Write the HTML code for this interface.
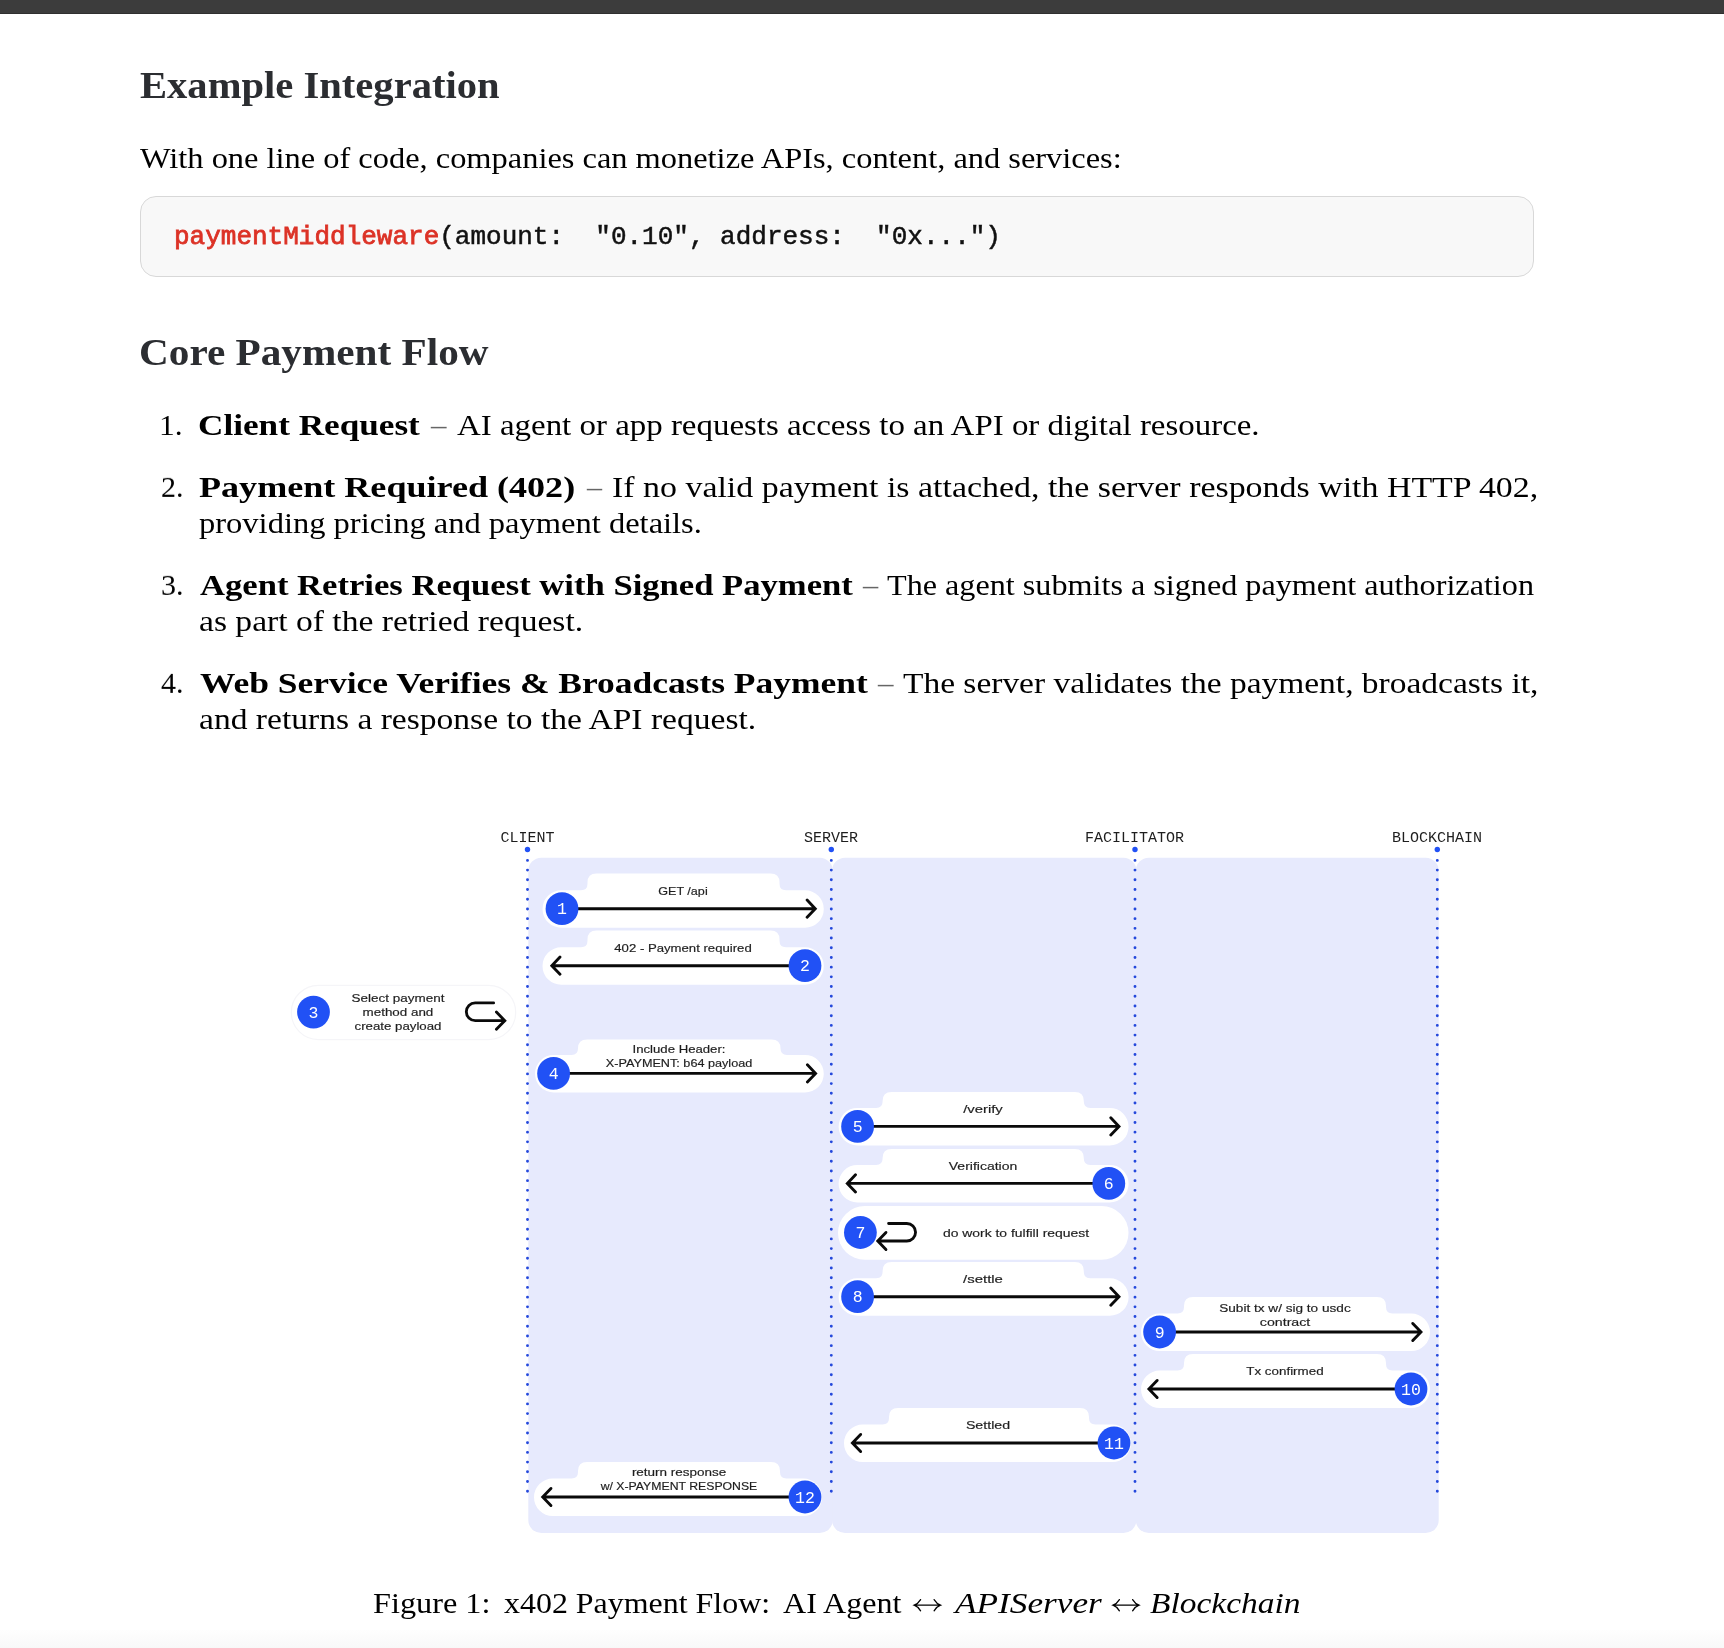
<!DOCTYPE html>
<html><head><meta charset="utf-8"><title>x402</title><style>
html,body{margin:0;padding:0;background:#fff;}
body{width:1724px;height:1648px;position:relative;overflow:hidden;font-family:"Liberation Serif",serif;color:#000;}
#topbar{position:absolute;left:0;top:0;width:1724px;height:12.6px;background:#3c3c3c;border-bottom:1px solid #2f2f2f;}
#botfade{position:absolute;left:0;top:1630px;width:1724px;height:18px;background:linear-gradient(#fefefe,#f8f8f8);}
#code{position:absolute;left:140px;top:195.9px;width:1391.6px;height:79px;border:1.3px solid #d8d8d8;border-radius:16px;background:#f8f8f8;-webkit-text-stroke:.5px #111;
 font-family:"Liberation Mono",monospace;font-size:26px;will-change:transform;line-height:80.4px;white-space:pre;padding-left:0;text-indent:33px;color:#111;box-sizing:content-box;}
#code .r{color:#dc3226;-webkit-text-stroke:.8px #dc3226;}
.ln{position:absolute;white-space:nowrap;transform-origin:0 0;line-height:1;will-change:transform;}
.b{font-size:30px;color:#000;}
.bb{font-weight:bold;}
.h{font-size:37px;font-weight:bold;color:#2b2d31;}
.d{color:#666;}
.ar{font-size:26px;}
svg text{font-family:"Liberation Sans",sans-serif;}

</style></head><body>
<div id="topbar"></div>
<div id="botfade"></div>
<div id="code"><span class="r">paymentMiddleware</span>(amount:  "0.10", address:  "0x...")</div>
<div class="ln h" style="left:139.50px;top:97.9px;transform:translateY(-.8375em) scaleX(1.0969)">Example Integration</div>
<div class="ln b" style="left:140.00px;top:167.5px;transform:translateY(-.8375em) scaleX(1.0806)">With one line of code, companies can monetize APIs, content, and services:</div>
<div class="ln h" style="left:138.50px;top:364.9px;transform:translateY(-.8375em) scaleX(1.1141)">Core Payment Flow</div>
<div class="ln b" style="left:159.00px;top:435px;transform:translateY(-.8375em) scaleX(1.0473)">1.</div>
<div class="ln b bb" style="left:198.00px;top:435px;transform:translateY(-.8375em) scaleX(1.1727)">Client Request</div>
<div class="ln b d" style="left:430.50px;top:435px;transform:translateY(-.8375em) scaleX(1.0269)">–</div>
<div class="ln b" style="left:457.00px;top:435px;transform:translateY(-.8375em) scaleX(1.0973)">AI agent or app requests access to an API or digital resource.</div>
<div class="ln b" style="left:161.00px;top:496.5px;transform:translateY(-.8375em) scaleX(0.9978)">2.</div>
<div class="ln b bb" style="left:199.00px;top:496.5px;transform:translateY(-.8375em) scaleX(1.2028)">Payment Required (402)</div>
<div class="ln b d" style="left:587.00px;top:496.5px;transform:translateY(-.8375em) scaleX(1.0000)">–</div>
<div class="ln b" style="left:612.00px;top:496.5px;transform:translateY(-.8375em) scaleX(1.1302)">If no valid payment is attached, the server responds with HTTP 402,</div>
<div class="ln b" style="left:199.00px;top:532.5px;transform:translateY(-.8375em) scaleX(1.0837)">providing pricing and payment details.</div>
<div class="ln b" style="left:161.00px;top:594.8px;transform:translateY(-.8375em) scaleX(0.9978)">3.</div>
<div class="ln b bb" style="left:200.00px;top:594.8px;transform:translateY(-.8375em) scaleX(1.1539)">Agent Retries Request with Signed Payment</div>
<div class="ln b d" style="left:862.50px;top:594.8px;transform:translateY(-.8375em) scaleX(1.0089)">–</div>
<div class="ln b" style="left:887.00px;top:594.8px;transform:translateY(-.8375em) scaleX(1.0726)">The agent submits a signed payment authorization</div>
<div class="ln b" style="left:199.00px;top:630.8px;transform:translateY(-.8375em) scaleX(1.1194)">as part of the retried request.</div>
<div class="ln b" style="left:161.00px;top:693px;transform:translateY(-.8375em) scaleX(0.9978)">4.</div>
<div class="ln b bb" style="left:200.00px;top:693px;transform:translateY(-.8375em) scaleX(1.1814)">Web Service Verifies &amp; Broadcasts Payment</div>
<div class="ln b d" style="left:878.00px;top:693px;transform:translateY(-.8375em) scaleX(1.0274)">–</div>
<div class="ln b" style="left:903.00px;top:693px;transform:translateY(-.8375em) scaleX(1.1151)">The server validates the payment, broadcasts it,</div>
<div class="ln b" style="left:199.00px;top:729px;transform:translateY(-.8375em) scaleX(1.1184)">and returns a response to the API request.</div>
<div class="ln b" style="left:373.00px;top:1612.6px;transform:translateY(-.8375em) scaleX(1.0760)">Figure 1:</div>
<div class="ln b" style="left:504.00px;top:1612.6px;transform:translateY(-.8375em) scaleX(1.0642)">x402 Payment Flow:</div>
<div class="ln b" style="left:782.50px;top:1612.6px;transform:translateY(-.8375em) scaleX(1.0697)">AI Agent</div>
<div class="ln b" style="left:955.00px;top:1612.6px;transform:translateY(-.8375em) scaleX(1.1752)"><i>APIServer</i></div>
<div class="ln b" style="left:1150.00px;top:1612.6px;transform:translateY(-.8375em) scaleX(1.1150)"><i>Blockchain</i></div>
<svg id="dg" width="1724" height="1648" viewBox="0 0 1724 1648" style="position:absolute;left:0;top:0;will-change:transform">
<rect x="528.3" y="857.8" width="304.4" height="675.2" rx="13" fill="#e7eafd"/>
<rect x="832.1" y="857.8" width="304.3" height="675.2" rx="13" fill="#e7eafd"/>
<rect x="1135.8" y="857.8" width="302.9" height="675.2" rx="13" fill="#e7eafd"/>
<text x="527.5" y="841.9" text-anchor="middle" font-family="Liberation Mono, monospace" font-size="15" fill="#1e1e1e" style="font-family:'Liberation Mono',monospace">CLIENT</text>
<text x="831" y="841.9" text-anchor="middle" font-family="Liberation Mono, monospace" font-size="15" fill="#1e1e1e" style="font-family:'Liberation Mono',monospace">SERVER</text>
<text x="1134.5" y="841.9" text-anchor="middle" font-family="Liberation Mono, monospace" font-size="15" fill="#1e1e1e" style="font-family:'Liberation Mono',monospace">FACILITATOR</text>
<text x="1437" y="841.9" text-anchor="middle" font-family="Liberation Mono, monospace" font-size="15" fill="#1e1e1e" style="font-family:'Liberation Mono',monospace">BLOCKCHAIN</text>
<circle cx="527.5" cy="849.5" r="2.7" fill="#2151f5"/>
<line x1="527.5" y1="860.4" x2="527.5" y2="1493" stroke="#2448dc" stroke-width="2.9" stroke-linecap="round" stroke-dasharray="0 9.705"/>
<circle cx="831.3" cy="849.5" r="2.7" fill="#2151f5"/>
<line x1="831.3" y1="860.4" x2="831.3" y2="1493" stroke="#2448dc" stroke-width="2.9" stroke-linecap="round" stroke-dasharray="0 9.705"/>
<circle cx="1135" cy="849.5" r="2.7" fill="#2151f5"/>
<line x1="1135" y1="860.4" x2="1135" y2="1493" stroke="#2448dc" stroke-width="2.9" stroke-linecap="round" stroke-dasharray="0 9.705"/>
<circle cx="1437.3" cy="849.5" r="2.7" fill="#2151f5"/>
<line x1="1437.3" y1="860.4" x2="1437.3" y2="1493" stroke="#2448dc" stroke-width="2.9" stroke-linecap="round" stroke-dasharray="0 9.705"/>
<path d="M561.3 890.2L581.0 890.2Q587.5 890.2 587.5 883.7L587.5 882.6Q587.5 873.6 596.5 873.6L770.5 873.6Q779.5 873.6 779.5 882.6L779.5 883.7Q779.5 890.2 786.0 890.2L805.0 890.2A18.8 18.8 0 0 1 805.0 927.8L561.3 927.8A18.8 18.8 0 0 1 561.3 890.2Z" fill="#fff"/>
<path d="M562 908.7L814.8 908.7M807.1 900.1L815.3 908.7L807.1 917.3" fill="none" stroke="#0a0a0a" stroke-width="2.85" stroke-linecap="round" stroke-linejoin="miter"/>
<circle cx="562" cy="908.7" r="16.4" fill="#2151f5"/>
<text x="562" y="914.3" text-anchor="middle" font-size="16.5" fill="#fff" style="font-family:'Liberation Mono',monospace">1</text>
<text x="658.2" y="895.0" textLength="49.5" lengthAdjust="spacingAndGlyphs" font-size="11.8" fill="#1e1e1e" stroke="#1e1e1e" stroke-width=".18">GET /api</text>
<path d="M561.3 947.2L581.0 947.2Q587.5 947.2 587.5 940.7L587.5 939.6Q587.5 930.6 596.5 930.6L770.5 930.6Q779.5 930.6 779.5 939.6L779.5 940.7Q779.5 947.2 786.0 947.2L805.0 947.2A18.8 18.8 0 0 1 805.0 984.8L561.3 984.8A18.8 18.8 0 0 1 561.3 947.2Z" fill="#fff"/>
<path d="M805 965.7L552.3 965.7M560.0 957.1L551.8 965.7L560.0 974.3" fill="none" stroke="#0a0a0a" stroke-width="2.85" stroke-linecap="round" stroke-linejoin="miter"/>
<circle cx="805" cy="965.7" r="16.4" fill="#2151f5"/>
<text x="805" y="971.3" text-anchor="middle" font-size="16.5" fill="#fff" style="font-family:'Liberation Mono',monospace">2</text>
<text x="614.3" y="952.0" textLength="137.4" lengthAdjust="spacingAndGlyphs" font-size="11.8" fill="#1e1e1e" stroke="#1e1e1e" stroke-width=".18">402 - Payment required</text>
<path d="M553.8 1054.9L571.5 1054.9Q578.0 1054.9 578.0 1048.4L578.0 1048.6Q578.0 1039.6 587.0 1039.6L771.5 1039.6Q780.5 1039.6 780.5 1048.6L780.5 1048.4Q780.5 1054.9 787.0 1054.9L805.0 1054.9A18.8 18.8 0 0 1 805.0 1092.5L553.8 1092.5A18.8 18.8 0 0 1 553.8 1054.9Z" fill="#fff"/>
<path d="M553.6 1073.4L815.1 1073.4M807.4 1064.8L815.6 1073.4L807.4 1082.0" fill="none" stroke="#0a0a0a" stroke-width="2.85" stroke-linecap="round" stroke-linejoin="miter"/>
<circle cx="553.6" cy="1073.4" r="16.4" fill="#2151f5"/>
<text x="553.6" y="1079.0" text-anchor="middle" font-size="16.5" fill="#fff" style="font-family:'Liberation Mono',monospace">4</text>
<text x="632.5" y="1053.0" textLength="93" lengthAdjust="spacingAndGlyphs" font-size="11.8" fill="#1e1e1e" stroke="#1e1e1e" stroke-width=".18">Include Header:</text>
<text x="605.8" y="1067.0" textLength="146.5" lengthAdjust="spacingAndGlyphs" font-size="11.8" fill="#1e1e1e" stroke="#1e1e1e" stroke-width=".18">X-PAYMENT: b64 payload</text>
<path d="M857.4 1107.9L876.1 1107.9Q882.6 1107.9 882.6 1101.4L882.6 1101.0Q882.6 1092.0 891.6 1092.0L1074.8 1092.0Q1083.8 1092.0 1083.8 1101.0L1083.8 1101.4Q1083.8 1107.9 1090.3 1107.9L1109.8 1107.9A18.8 18.8 0 0 1 1109.8 1145.5L857.4 1145.5A18.8 18.8 0 0 1 857.4 1107.9Z" fill="#fff"/>
<path d="M857.6 1126.4L1118.5 1126.4M1110.8 1117.8L1119.0 1126.4L1110.8 1135.0" fill="none" stroke="#0a0a0a" stroke-width="2.85" stroke-linecap="round" stroke-linejoin="miter"/>
<circle cx="857.6" cy="1126.4" r="16.4" fill="#2151f5"/>
<text x="857.6" y="1132.0" text-anchor="middle" font-size="16.5" fill="#fff" style="font-family:'Liberation Mono',monospace">5</text>
<text x="963.2" y="1113.0" textLength="39.6" lengthAdjust="spacingAndGlyphs" font-size="11.8" fill="#1e1e1e" stroke="#1e1e1e" stroke-width=".18">/verify</text>
<path d="M857.4 1164.9L876.1 1164.9Q882.6 1164.9 882.6 1158.4L882.6 1158.0Q882.6 1149.0 891.6 1149.0L1074.8 1149.0Q1083.8 1149.0 1083.8 1158.0L1083.8 1158.4Q1083.8 1164.9 1090.3 1164.9L1109.8 1164.9A18.8 18.8 0 0 1 1109.8 1202.5L857.4 1202.5A18.8 18.8 0 0 1 857.4 1164.9Z" fill="#fff"/>
<path d="M1108.8 1183.4L847.8 1183.4M855.5 1174.8L847.3 1183.4L855.5 1192.0" fill="none" stroke="#0a0a0a" stroke-width="2.85" stroke-linecap="round" stroke-linejoin="miter"/>
<circle cx="1108.8" cy="1183.4" r="16.4" fill="#2151f5"/>
<text x="1108.8" y="1189.0" text-anchor="middle" font-size="16.5" fill="#fff" style="font-family:'Liberation Mono',monospace">6</text>
<text x="948.8" y="1170.0" textLength="68.5" lengthAdjust="spacingAndGlyphs" font-size="11.8" fill="#1e1e1e" stroke="#1e1e1e" stroke-width=".18">Verification</text>
<path d="M857.4 1278.2L876.1 1278.2Q882.6 1278.2 882.6 1271.7L882.6 1271.0Q882.6 1262.0 891.6 1262.0L1074.8 1262.0Q1083.8 1262.0 1083.8 1271.0L1083.8 1271.7Q1083.8 1278.2 1090.3 1278.2L1109.8 1278.2A18.8 18.8 0 0 1 1109.8 1315.8L857.4 1315.8A18.8 18.8 0 0 1 857.4 1278.2Z" fill="#fff"/>
<path d="M857.6 1296.7L1118.5 1296.7M1110.8 1288.1L1119.0 1296.7L1110.8 1305.3" fill="none" stroke="#0a0a0a" stroke-width="2.85" stroke-linecap="round" stroke-linejoin="miter"/>
<circle cx="857.6" cy="1296.7" r="16.4" fill="#2151f5"/>
<text x="857.6" y="1302.3" text-anchor="middle" font-size="16.5" fill="#fff" style="font-family:'Liberation Mono',monospace">8</text>
<text x="963.1" y="1283.0" textLength="39.8" lengthAdjust="spacingAndGlyphs" font-size="11.8" fill="#1e1e1e" stroke="#1e1e1e" stroke-width=".18">/settle</text>
<path d="M1159.8 1313.5L1177.5 1313.5Q1184.0 1313.5 1184.0 1307.0L1184.0 1306.0Q1184.0 1297.0 1193.0 1297.0L1377.0 1297.0Q1386.0 1297.0 1386.0 1306.0L1386.0 1307.0Q1386.0 1313.5 1392.5 1313.5L1411.2 1313.5A18.8 18.8 0 0 1 1411.2 1351.1L1159.8 1351.1A18.8 18.8 0 0 1 1159.8 1313.5Z" fill="#fff"/>
<path d="M1159.6 1332L1420.5 1332M1412.8 1323.4L1421.0 1332L1412.8 1340.6" fill="none" stroke="#0a0a0a" stroke-width="2.85" stroke-linecap="round" stroke-linejoin="miter"/>
<circle cx="1159.6" cy="1332" r="16.4" fill="#2151f5"/>
<text x="1159.6" y="1337.6" text-anchor="middle" font-size="16.5" fill="#fff" style="font-family:'Liberation Mono',monospace">9</text>
<text x="1219.2" y="1311.7" textLength="131.5" lengthAdjust="spacingAndGlyphs" font-size="11.8" fill="#1e1e1e" stroke="#1e1e1e" stroke-width=".18">Subit tx w/ sig to usdc</text>
<text x="1259.8" y="1325.7" textLength="50.5" lengthAdjust="spacingAndGlyphs" font-size="11.8" fill="#1e1e1e" stroke="#1e1e1e" stroke-width=".18">contract</text>
<path d="M1159.8 1370.5L1177.5 1370.5Q1184.0 1370.5 1184.0 1364.0L1184.0 1363.0Q1184.0 1354.0 1193.0 1354.0L1377.0 1354.0Q1386.0 1354.0 1386.0 1363.0L1386.0 1364.0Q1386.0 1370.5 1392.5 1370.5L1411.2 1370.5A18.8 18.8 0 0 1 1411.2 1408.1L1159.8 1408.1A18.8 18.8 0 0 1 1159.8 1370.5Z" fill="#fff"/>
<path d="M1411 1389L1149.4 1389M1157.1 1380.4L1148.9 1389L1157.1 1397.6" fill="none" stroke="#0a0a0a" stroke-width="2.85" stroke-linecap="round" stroke-linejoin="miter"/>
<circle cx="1411" cy="1389" r="16.4" fill="#2151f5"/>
<text x="1411" y="1394.6" text-anchor="middle" font-size="16.5" fill="#fff" style="font-family:'Liberation Mono',monospace">10</text>
<text x="1246.3" y="1375.0" textLength="77.3" lengthAdjust="spacingAndGlyphs" font-size="11.8" fill="#1e1e1e" stroke="#1e1e1e" stroke-width=".18">Tx confirmed</text>
<path d="M862.8 1424.5L882.5 1424.5Q889.0 1424.5 889.0 1418.0L889.0 1417.0Q889.0 1408.0 898.0 1408.0L1080.0 1408.0Q1089.0 1408.0 1089.0 1417.0L1089.0 1418.0Q1089.0 1424.5 1095.5 1424.5L1112.2 1424.5A18.8 18.8 0 0 1 1112.2 1462.1L862.8 1462.1A18.8 18.8 0 0 1 862.8 1424.5Z" fill="#fff"/>
<path d="M1114 1443L852.9 1443M860.6 1434.4L852.4 1443L860.6 1451.6" fill="none" stroke="#0a0a0a" stroke-width="2.85" stroke-linecap="round" stroke-linejoin="miter"/>
<circle cx="1114" cy="1443" r="16.4" fill="#2151f5"/>
<text x="1114" y="1448.6" text-anchor="middle" font-size="16.5" fill="#fff" style="font-family:'Liberation Mono',monospace">11</text>
<text x="965.9" y="1429.0" textLength="44.2" lengthAdjust="spacingAndGlyphs" font-size="11.8" fill="#1e1e1e" stroke="#1e1e1e" stroke-width=".18">Settled</text>
<path d="M552.8 1478.5L571.5 1478.5Q578.0 1478.5 578.0 1472.0L578.0 1471.0Q578.0 1462.0 587.0 1462.0L771.0 1462.0Q780.0 1462.0 780.0 1471.0L780.0 1472.0Q780.0 1478.5 786.5 1478.5L803.2 1478.5A18.8 18.8 0 0 1 803.2 1516.1L552.8 1516.1A18.8 18.8 0 0 1 552.8 1478.5Z" fill="#fff"/>
<path d="M805 1497L543.2 1497M550.9 1488.4L542.7 1497L550.9 1505.6" fill="none" stroke="#0a0a0a" stroke-width="2.85" stroke-linecap="round" stroke-linejoin="miter"/>
<circle cx="805" cy="1497" r="16.4" fill="#2151f5"/>
<text x="805" y="1502.6" text-anchor="middle" font-size="16.5" fill="#fff" style="font-family:'Liberation Mono',monospace">12</text>
<text x="631.9" y="1476.0" textLength="94.3" lengthAdjust="spacingAndGlyphs" font-size="11.8" fill="#1e1e1e" stroke="#1e1e1e" stroke-width=".18">return response</text>
<text x="600.7" y="1490.0" textLength="156.6" lengthAdjust="spacingAndGlyphs" font-size="11.8" fill="#1e1e1e" stroke="#1e1e1e" stroke-width=".18">w/ X-PAYMENT RESPONSE</text>
<rect x="291.3" y="985.3" width="224.4" height="54.3" rx="27.1" fill="#fff" stroke="#f5f5f8" stroke-width="1.2"/>
<circle cx="313.5" cy="1012.1" r="16.4" fill="#2151f5"/>
<text x="313.5" y="1017.7" text-anchor="middle" font-size="16.5" fill="#fff" style="font-family:'Liberation Mono',monospace">3</text>
<text x="351.6" y="1002.0" textLength="92.8" lengthAdjust="spacingAndGlyphs" font-size="11.8" fill="#1e1e1e" stroke="#1e1e1e" stroke-width=".18">Select payment</text>
<text x="362.6" y="1016.0" textLength="70.7" lengthAdjust="spacingAndGlyphs" font-size="11.8" fill="#1e1e1e" stroke="#1e1e1e" stroke-width=".18">method and</text>
<text x="354.6" y="1030.0" textLength="86.8" lengthAdjust="spacingAndGlyphs" font-size="11.8" fill="#1e1e1e" stroke="#1e1e1e" stroke-width=".18">create payload</text>
<path d="M493.6 1002.9H475.2a8.87 8.87 0 0 0 0 17.75H504.3M496.4 1012.1L504.8 1020.65L496.4 1029.2" fill="none" stroke="#0a0a0a" stroke-width="2.85" stroke-linecap="round" stroke-linejoin="miter"/>
<rect x="838" y="1206" width="290.5" height="53.8" rx="26.9" fill="#fff"/>
<circle cx="860.4" cy="1232.5" r="16.4" fill="#2151f5"/>
<text x="860.4" y="1238.1" text-anchor="middle" font-size="16.5" fill="#fff" style="font-family:'Liberation Mono',monospace">7</text>
<path d="M888.6 1223.5H906.8a8.75 8.75 0 0 1 0 17.5H878.3M885.95 1232.4L877.75 1241L885.95 1249.6" fill="none" stroke="#0a0a0a" stroke-width="2.85" stroke-linecap="round" stroke-linejoin="miter"/>
<text x="942.9" y="1236.8" textLength="146.2" lengthAdjust="spacingAndGlyphs" font-size="11.8" fill="#1e1e1e" stroke="#1e1e1e" stroke-width=".18">do work to fulfill request</text>
<path d="M914.6 1605.2H940.1M920.6 1599.6Q918.0 1603.8 914.2 1605.2Q918.0 1606.6 920.6 1610.8M934.1 1599.6Q936.7 1603.8 940.5 1605.2Q936.7 1606.6 934.1 1610.8" fill="none" stroke="#000" stroke-width="1.25" stroke-linecap="round"/>
<path d="M1113.4 1605.2H1138.6M1119.4 1599.6Q1116.8 1603.8 1113.0 1605.2Q1116.8 1606.6 1119.4 1610.8M1132.6 1599.6Q1135.2 1603.8 1139.0 1605.2Q1135.2 1606.6 1132.6 1610.8" fill="none" stroke="#000" stroke-width="1.25" stroke-linecap="round"/>
</svg>
</body></html>
